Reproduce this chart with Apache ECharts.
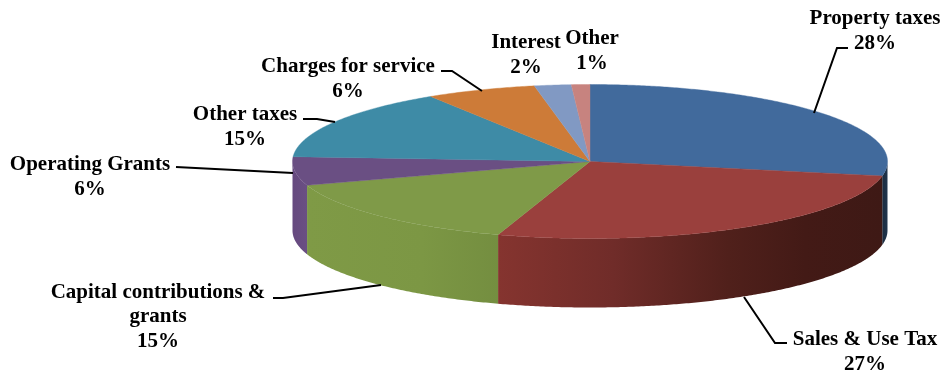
<!DOCTYPE html>
<html>
<head>
<meta charset="utf-8">
<title>Revenue by source</title>
<script src="https://cdn.jsdelivr.net/npm/echarts@6/dist/echarts.min.js"></script>
<style>
  html, body { margin: 0; padding: 0; background: #fff; }
  #chart { width: 945px; height: 373px; }
</style>
</head>
<body>
<div id="chart"></div>
<script>
// Revenue sources, percent of total
const categories = [
  'Property taxes', 'Sales & Use Tax', 'Capital contributions &\ngrants', 'Operating Grants',
  'Other taxes', 'Charges for service', 'Interest', 'Other'
];
const shares = [28, 27, 15, 6, 15, 6, 2, 1];

// Slice colours: top face and the gradient stops of the rim
const topColors = ['#416a9c', '#9a403d', '#7f9a48', '#6a4f83', '#3e8ba6', '#cd7b38', '#8199c3', '#c7837f'];
const rimStops = [
  [[0, '#1b2c40'], [1, '#20344c']],
  [[0, '#85342f'], [0.3, '#702c29'], [0.6, '#50201b'], [0.8, '#431a16'], [1, '#3e1915']],
  [[0, '#7f9a46'], [0.6, '#7c9744'], [1, '#748e40']],
  [[0, '#66497f'], [1, '#6a4f83']],
  null, null, null, null
];

// Label centres and leader polylines, in pixels
const labelCenters = [[875, 31], [865, 352], [158, 317], [90, 177], [245, 127], [348, 79], [526, 55], [592, 51]];
const leaderLines = [
  [[848, 48], [837, 48], [814, 113]],
  [[744, 297], [775, 343], [787, 343]],
  [[273, 298], [283, 298], [381, 285]],
  [[176, 167], [293, 173]],
  [[303, 119], [317, 119], [335, 122]],
  [[441, 71], [452, 71], [482, 91]],
  [],
  []
];

// Tilted disc: ellipse of the top face and height of the rim
const disc = { cx: 590, cy: 161.5, rx: 297.5, ry: 77, depth: 69 };

const total = shares.reduce((a, b) => a + b, 0);
const startAngles = [];
shares.reduce((sum, v, i) => { startAngles[i] = sum / total * 360; return sum + v; }, 0);

// Angle is measured clockwise from the back of the disc
function rimPoint(deg, drop) {
  const t = deg * Math.PI / 180;
  return [disc.cx + disc.rx * Math.sin(t), disc.cy - disc.ry * Math.cos(t) + (drop || 0)];
}
function arcPoints(from, to, drop) {
  const pts = [];
  const steps = Math.max(2, Math.ceil((to - from) / 0.5));
  for (let i = 0; i <= steps; i++) pts.push(rimPoint(from + (to - from) * i / steps, drop));
  return pts;
}

function renderSlice(params, api) {
  const i = params.dataIndex;
  const from = startAngles[i];
  const to = from + api.value(0) / total * 360;
  const children = [];

  // Only the front half of the disc shows its rim
  const a = Math.max(from, 90), b = Math.min(to, 270);
  if (b > a && rimStops[i]) {
    const points = arcPoints(a, b, 0).concat(arcPoints(a, b, disc.depth).reverse());
    children.push({
      type: 'polygon',
      z2: 1,
      shape: { points },
      style: {
        fill: {
          type: 'linear', x: 0, y: 0, x2: 1, y2: 0,
          colorStops: rimStops[i].map(s => ({ offset: s[0], color: s[1] }))
        },
        lineWidth: 0
      }
    });
  }

  children.push({
    type: 'polygon',
    z2: 2,
    shape: { points: [[disc.cx, disc.cy]].concat(arcPoints(from, to, 0)) },
    style: { fill: topColors[i], stroke: topColors[i], lineWidth: 0.4 }
  });

  if (leaderLines[i].length) {
    children.push({
      type: 'polyline',
      z2: 3,
      shape: { points: leaderLines[i] },
      style: { fill: null, stroke: '#000', lineWidth: 2 }
    });
  }

  children.push({
    type: 'text',
    z2: 4,
    style: {
      x: labelCenters[i][0],
      y: labelCenters[i][1],
      text: categories[i] + '\n' + api.value(0) + '%',
      align: 'center',
      verticalAlign: 'middle',
      fill: '#000',
      font: 'bold 21px "Liberation Serif", serif',
      lineHeight: 24.5
    }
  });

  return { type: 'group', children };
}

const chart = echarts.init(document.getElementById('chart'), null, { renderer: 'canvas' });
chart.setOption({
  animation: false,
  backgroundColor: '#ffffff',
  series: [{
    type: 'custom',
    coordinateSystem: 'none',
    silent: true,
    clip: false,
    renderItem: renderSlice,
    data: shares.map(v => [v])
  }]
});
</script>
</body>
</html>
